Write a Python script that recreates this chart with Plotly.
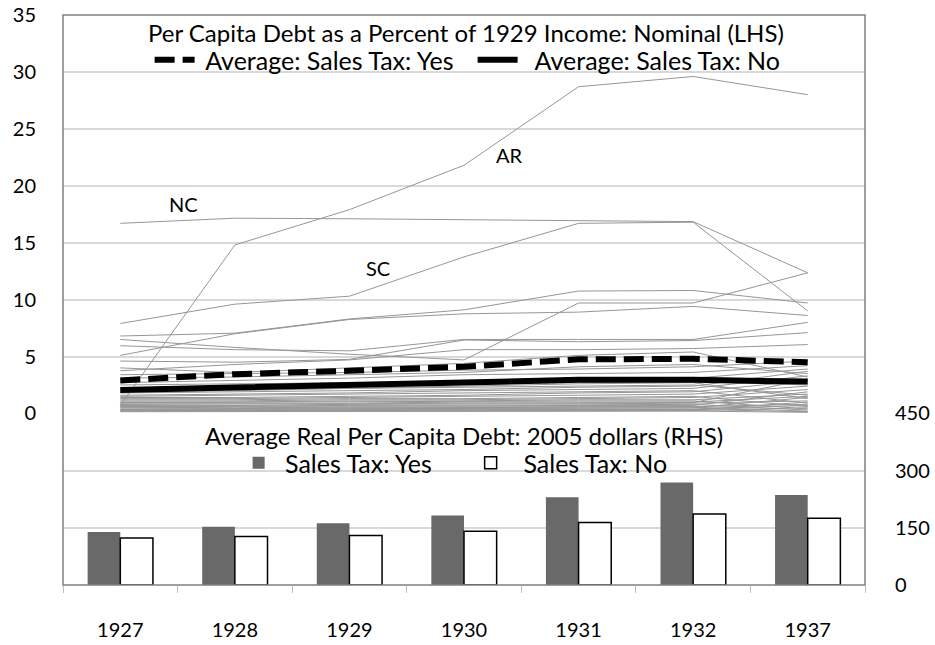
import plotly.graph_objects as go

years = ['1927', '1928', '1929', '1930', '1931', '1932', '1937']

# per capita debt as % of 1929 income, nominal (LHS)
avg_yes = [2.9, 3.45, 3.75, 4.1, 4.75, 4.8, 4.5]
avg_no = [2.05, 2.3, 2.5, 2.75, 2.95, 2.95, 2.8]

ar = [0.7, 14.8, 17.9, 21.8, 28.7, 29.6, 28.0]
nc = [16.7, 17.15, 17.1, 17.0, 16.95, 16.85, 12.35]
sc = [7.9, 9.6, 10.3, 13.75, 16.7, 16.8, 9.0]

other_states = [
    [6.8, 7.05, 8.3, 9.1, 10.75, 10.8, 9.7],
    [5.1, 7.0, 8.25, 8.75, 8.9, 9.4, 8.6],
    [6.5, 5.8, 5.2, 4.7, 9.7, 9.7, 12.35],
    [5.95, 5.6, 5.5, 6.5, 6.5, 6.5, 8.0],
    [4.6, 4.5, 4.75, 6.45, 6.3, 6.4, 7.1],
    [3.75, 4.3, 4.7, 5.6, 5.6, 5.7, 6.05],
    [4.0, 3.6, 4.0, 4.4, 5.1, 5.4, 3.2],
    [3.4, 3.5, 3.6, 3.8, 3.9, 4.1, 4.6],
    [3.1, 3.2, 3.4, 3.6, 4.1, 4.3, 3.5],
    [2.7, 2.9, 3.1, 3.4, 3.5, 3.6, 4.2],
    [2.5, 2.6, 2.7, 2.8, 2.9, 3.1, 3.9],
    [1.9, 2.0, 2.2, 2.4, 2.6, 2.7, 1.3],
    [1.8, 1.9, 2.0, 2.1, 2.3, 2.4, 3.7],
    [1.6, 1.7, 1.8, 2.0, 2.1, 2.2, 3.3],
    [1.5, 1.6, 1.7, 1.8, 1.9, 2.0, 0.9],
    [1.4, 1.4, 1.5, 1.6, 1.8, 1.9, 2.9],
    [1.3, 1.3, 1.4, 1.5, 1.6, 1.7, 2.4],
    [1.2, 1.2, 1.3, 1.3, 1.4, 1.5, 0.6],
    [1.1, 1.1, 1.2, 1.2, 1.3, 1.4, 2.1],
    [1.0, 1.0, 1.1, 1.1, 1.2, 1.2, 1.7],
    [0.95, 1.0, 1.0, 1.1, 1.1, 1.1, 0.4],
    [0.9, 0.9, 0.9, 1.0, 1.0, 1.0, 1.5],
    [0.8, 0.8, 0.85, 0.9, 0.9, 0.95, 3.0],
    [0.75, 0.7, 0.8, 0.8, 0.85, 0.9, 1.1],
    [0.7, 0.65, 0.7, 0.7, 0.75, 0.8, 0.3],
    [0.6, 0.6, 0.6, 0.65, 0.7, 0.7, 1.9],
    [0.55, 0.5, 0.55, 0.6, 0.6, 0.6, 0.8],
    [0.5, 0.45, 0.5, 0.5, 0.5, 0.55, 0.2],
    [0.4, 0.4, 0.45, 0.45, 0.45, 0.5, 1.4],
    [0.35, 0.35, 0.4, 0.4, 0.4, 0.4, 0.7],
    [0.3, 0.3, 0.3, 0.35, 0.35, 0.35, 0.15],
    [0.25, 0.25, 0.25, 0.3, 0.3, 0.3, 1.0],
    [0.2, 0.2, 0.2, 0.2, 0.25, 0.25, 0.5],
    [0.15, 0.15, 0.15, 0.15, 0.2, 0.2, 0.1],
    [2.2, 2.3, 2.5, 2.6, 2.7, 2.8, 2.5],
    [2.0, 2.1, 2.2, 2.3, 2.4, 2.5, 1.6],
]

# average real per capita debt, 2005 dollars (RHS)
real_yes = [139, 153, 162, 182, 230, 269, 236]
real_no = [123, 127, 130, 141, 164, 186, 175]

FONT = 'Lato, Calibri, Arial, sans-serif'
GRAY = 'rgb(150,150,150)'
GRID = 'rgb(217,217,217)'
CLEAR = 'rgba(0,0,0,0)'
SP = '\u00a0'

fig = go.Figure()

for vals in [ar, nc, sc] + other_states:
    fig.add_trace(go.Scatter(x=years, y=vals, mode='lines', showlegend=False,
                             line=dict(color=GRAY, width=1), hoverinfo='skip'))

fig.add_trace(go.Scatter(x=years, y=avg_yes, mode='lines', name=SP + 'Average: Sales Tax: Yes',
                         line=dict(color='black', width=6, dash='20px,8px'), legend='legend'))
fig.add_trace(go.Scatter(x=years, y=avg_no, mode='lines', name=SP * 2 + 'Average: Sales Tax: No',
                         line=dict(color='black', width=6), legend='legend'))

fig.add_trace(go.Bar(x=years, y=real_yes, name=SP + 'Sales Tax: Yes', yaxis='y2',
                     marker=dict(color='rgb(105,105,105)', line=dict(width=0)), legend='legend2'))
fig.add_trace(go.Bar(x=years, y=real_no, name=SP * 2 + 'Sales Tax: No', yaxis='y2',
                     marker=dict(color='white', line=dict(color='black', width=1.5)), legend='legend2'))

split = 0.301

fig.update_layout(
    width=935, height=645,
    margin=dict(l=63, r=70, t=15, b=60),
    paper_bgcolor='white', plot_bgcolor='white',
    font=dict(family=FONT, size=20, color='black'),
    barmode='group', bargap=0.43, bargroupgap=0,
    xaxis=dict(type='category', anchor='y2', showgrid=False, showline=False, automargin=False,
               ticks='outside', tickson='boundaries', ticklen=7, tickcolor='rgb(190,190,190)',
               ticklabelstandoff=31, tickfont=dict(size=20), zeroline=False),
    yaxis=dict(domain=[split, 1], range=[0, 35], dtick=5, showgrid=True, gridcolor=GRID,
               gridwidth=1.5, zeroline=False, showline=False, automargin=False,
               ticks='outside', ticklen=22, tickcolor=CLEAR, tickfont=dict(size=20)),
    yaxis2=dict(domain=[0, split], range=[0, 450], dtick=150, side='right', anchor='x',
                showgrid=True, gridcolor=GRID, gridwidth=1.5, zeroline=False, showline=False,
                ticks='outside', ticklen=25, tickcolor=CLEAR, tickfont=dict(size=20),
                automargin=False),
    legend=dict(orientation='h', x=0.108, xanchor='left', y=0.921, yanchor='middle',
                bgcolor=CLEAR, font=dict(size=25), itemwidth=40,
                entrywidth=268),
    legend2=dict(orientation='h', x=0.219, xanchor='left', y=0.214, yanchor='middle',
                 bgcolor=CLEAR, font=dict(size=25), entrywidth=187),
    shapes=[dict(type='rect', xref='paper', yref='paper', x0=0, x1=1, y0=0, y1=1,
                 line=dict(color='rgb(128,128,128)', width=1.5), layer='above')],
    annotations=[
        dict(text='Per Capita Debt as a Percent of 1929 Income: Nominal (LHS)',
             xref='paper', yref='paper', x=0.503, y=0.970, showarrow=False,
             xanchor='center', yanchor='middle', font=dict(size=24)),
        dict(text='Average Real Per Capita Debt: 2005 dollars (RHS)',
             xref='paper', yref='paper', x=0.5, y=0.262, showarrow=False,
             xanchor='center', yanchor='middle', font=dict(size=24)),
        dict(text='NC', x=0.55, y=18.4, xref='x', yref='y', showarrow=False, font=dict(size=20)),
        dict(text='AR', x=3.4, y=22.7, xref='x', yref='y', showarrow=False, font=dict(size=20)),
        dict(text='SC', x=2.25, y=12.8, xref='x', yref='y', showarrow=False, font=dict(size=20)),
    ],
)

fig.write_html('out.html', config={'displayModeBar': False},
               post_script="document.body.style.margin='0';")
